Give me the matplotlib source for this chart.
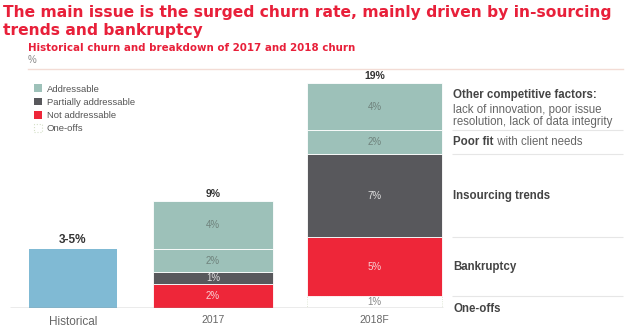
import matplotlib.pyplot as plt
from matplotlib.patches import Patch

# Chart data
categories = ['Historical', '2017', '2018F']
historical_value = 5
historical_label = '3-5%'
segment_names = ['One-offs', 'Not addressable', 'Partially addressable', 'Addressable', 'Addressable']
values_2017 = [0, 2, 1, 2, 4]
values_2018 = [1, 5, 7, 2, 4]
total_labels = ['9%', '19%']
driver_titles = ['One-offs', 'Bankruptcy', 'Insourcing trends', 'Poor fit', 'Other competitive factors:']
driver_notes = ['', '', '', ' with client needs', 'lack of innovation, poor issue\nresolution, lack of data integrity']

# Colours
RED = '#E8203A'
TEAL = '#9DC1B9'
DARK = '#58585C'
BAR_RED = '#EE2639'
BLUE = '#80BAD4'
GREY = '#666666'
seg_colors = ['white', BAR_RED, DARK, TEAL, TEAL]
seg_text = ['#888888', '#F8D0D4', '#E0E0E0', '#6F827C', '#6F827C']

plt.rcParams['font.family'] = ['Liberation Sans', 'DejaVu Sans']

W, H = 640, 333
fig = plt.figure(figsize=(W / 100, H / 100), dpi=100)

# Axes laid out in pixel units horizontally, percent vertically
base_px = 308
px_per_pct = 11.84
ax = fig.add_axes([0, (H - base_px) / H, 1, 20 * px_per_pct / H])
ax.set_xlim(0, W)
ax.set_ylim(0, 20)
ax.axis('off')

bar_x = [73, 213, 374.5]
bar_w = [88, 120, 135]

# Historical bar
ax.bar(bar_x[0], historical_value, bar_w[0], color=BLUE)
ax.text(bar_x[0], historical_value + 0.2, historical_label, ha='center', va='bottom',
        fontsize=8.5, fontweight='bold', color='#333333')

# Stacked bars for 2017 and 2018F
for i, vals in enumerate([values_2017, values_2018]):
    x, w = bar_x[i + 1], bar_w[i + 1]
    bottom = 0
    for j, v in enumerate(vals):
        if v == 0:
            continue
        edge = '#D5E0C8' if j == 0 else 'white'
        ls = ':' if j == 0 else '-'
        ax.bar(x, v, w, bottom=bottom, color=seg_colors[j], edgecolor=edge,
               linewidth=0.6, linestyle=ls)
        ax.text(x, bottom + v / 2, f'{v}%', ha='center', va='center',
                fontsize=7, color=seg_text[j])
        bottom += v
    ax.text(x, bottom + 0.2, total_labels[i], ha='center', va='bottom',
            fontsize=7.5, fontweight='bold', color='#333333')

# Baseline and category labels
ax.hlines(0, 10, 443, color='#999999', linewidth=1)
for k, (x, name) in enumerate(zip(bar_x, categories)):
    ax.text(x, -0.55 if k else -0.7, name, ha='center', va='top',
            fontsize=8.5 if k == 0 else 7.5, color=GREY)

# Driver annotations next to the 2018F bar
bounds = [0]
for v in values_2018:
    bounds.append(bounds[-1] + v)
for j, (title, note) in enumerate(zip(driver_titles, driver_notes)):
    lo, hi = bounds[j], bounds[j + 1]
    if j > 0:
        ax.hlines(lo, 452, 623, color='#E6E6E6', linewidth=0.8)
    if j == 0:
        yc = -0.05
    elif j == 4:
        yc = (lo + hi) / 2 + 0.95
    else:
        yc = (lo + hi) / 2
    t = ax.text(453, yc, title, ha='left', va='center', fontsize=8.3,
                fontweight='bold', color='#444444')
    if j == 3:
        ax.annotate(note, xy=(1, 0.5), xycoords=t, ha='left', va='center',
                    fontsize=8.3, color=GREY)
    elif j == 4:
        ax.annotate(note, xy=(0, 0), xycoords=t, xytext=(0, -1.5),
                    textcoords='offset points', ha='left', va='top',
                    fontsize=8.3, color=GREY, linespacing=1.1)

# Legend
handles = [Patch(facecolor=TEAL, label='Addressable'),
           Patch(facecolor=DARK, label='Partially addressable'),
           Patch(facecolor=BAR_RED, label='Not addressable'),
           Patch(facecolor='white', edgecolor='#D5E0C8', linestyle=':', linewidth=0.8,
                 label='One-offs')]
fig.legend(handles=handles, loc='upper left', bbox_to_anchor=(25 / W, 1 - 76 / H),
           frameon=False, fontsize=6.8, handlelength=0.9, handleheight=0.9,
           handletextpad=0.5, labelspacing=0.42, labelcolor='#555555')

# Titles (wider face for the tracked-out headline look)
fig.text(3 / W, 1 - 13 / H, 'The main issue is the surged churn rate, mainly driven by in-sourcing',
         fontsize=11.2, fontweight='bold', color=RED, va='center', ha='left',
         family='DejaVu Sans')
fig.text(3 / W, 1 - 31 / H, 'trends and bankruptcy', fontsize=11.2, fontweight='bold',
         color=RED, va='center', ha='left', family='DejaVu Sans')
fig.text(28 / W, 1 - 48 / H, 'Historical churn and breakdown of 2017 and 2018 churn',
         fontsize=7.4, fontweight='bold', color=RED, va='center', ha='left',
         family='DejaVu Sans')
fig.text(28 / W, 1 - 60 / H, '%', fontsize=7, color='#888888', va='center', ha='left')
fig.add_artist(plt.Line2D([28 / W, 623 / W], [1 - 69 / H, 1 - 69 / H],
                          color='#F3DCD5', linewidth=1))

fig.savefig('out.png', dpi=100)
